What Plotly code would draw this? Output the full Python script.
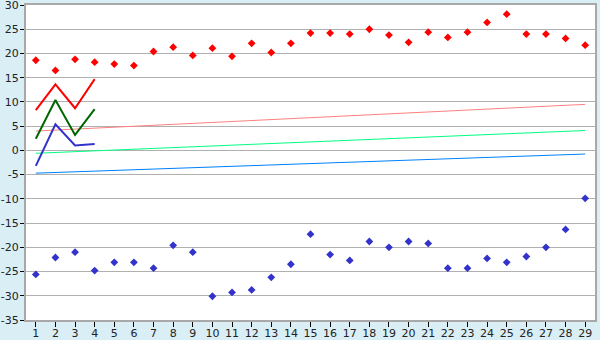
import plotly.graph_objects as go

categories = list(range(1, 30))

red_points = [18.6, 16.5, 18.8, 18.2, 17.8, 17.5, 20.4, 21.3, 19.6, 21.1,
              19.4, 22.1, 20.2, 22.1, 24.2, 24.2, 24.0, 25.0, 23.8, 22.3,
              24.4, 23.3, 24.4, 26.4, 28.1, 24.0, 24.0, 23.1, 21.7]
blue_points = [-25.6, -22.1, -21.0, -24.8, -23.1, -23.1, -24.3, -19.6, -21.0, -30.1,
               -29.3, -28.8, -26.2, -23.5, -17.3, -21.5, -22.7, -18.8, -20.0, -18.8,
               -19.2, -24.3, -24.3, -22.3, -23.1, -21.9, -20.0, -16.3, -9.9]

line_x = [1, 2, 3, 4]
red_line = [8.3, 13.6, 8.7, 14.7]
green_line = [2.4, 10.4, 3.2, 8.5]
blue_line = [-3.2, 5.4, 1.0, 1.3]

trend_x = [1, 29]
pink_trend = [4.0, 9.5]
green_trend = [-0.6, 4.1]
blue_trend = [-4.7, -0.75]

y_ticks = list(range(-35, 31, 5))
y_tick_labels = [str(v) for v in y_ticks]

fig = go.Figure()
fig.add_trace(go.Scatter(x=trend_x, y=pink_trend, mode="lines", line=dict(color="#ff8080", width=1)))
fig.add_trace(go.Scatter(x=trend_x, y=green_trend, mode="lines", line=dict(color="#00ff80", width=1)))
fig.add_trace(go.Scatter(x=trend_x, y=blue_trend, mode="lines", line=dict(color="#0080ff", width=1)))
fig.add_trace(go.Scatter(x=line_x, y=red_line, mode="lines", line=dict(color="#ff0000", width=2)))
fig.add_trace(go.Scatter(x=line_x, y=green_line, mode="lines", line=dict(color="#006600", width=2)))
fig.add_trace(go.Scatter(x=line_x, y=blue_line, mode="lines", line=dict(color="#3333cc", width=2)))
fig.add_trace(go.Scatter(x=categories, y=red_points, mode="markers",
                         marker=dict(symbol="diamond", size=6, color="#ff0000")))
fig.add_trace(go.Scatter(x=categories, y=blue_points, mode="markers",
                         marker=dict(symbol="diamond", size=6, color="#3333cc")))

fig.update_layout(
    width=600, height=340,
    margin=dict(l=26, r=5, t=5, b=20),
    paper_bgcolor="#daeef5",
    plot_bgcolor="#ffffff",
    showlegend=False,
    font=dict(family="DejaVu Sans", size=11, color="#222222"),
    xaxis=dict(range=[0.5, 29.5], tickmode="array", tickvals=categories,
               ticktext=[str(c) for c in categories], automargin=False,
               showgrid=False, zeroline=False, showline=True, linecolor="#a8a8a8",
               linewidth=2, mirror=True, ticks="outside", ticklen=5, tickcolor="#000000",
               tickfont=dict(size=11), ticklabelstandoff=-3, ticklabeloverflow="allow"),
    yaxis=dict(range=[-35, 30], tickmode="array", tickvals=y_ticks, ticktext=y_tick_labels,
               automargin=False,
               showgrid=True, gridcolor="#b0b0b0", gridwidth=1, zeroline=False,
               showline=True, linecolor="#a8a8a8", linewidth=2, mirror=True,
               ticks="outside", ticklen=4, tickcolor="#000000", tickfont=dict(size=11),
               ticklabelstandoff=-1, ticklabeloverflow="allow"),
)

fig.write_html("out.html")
